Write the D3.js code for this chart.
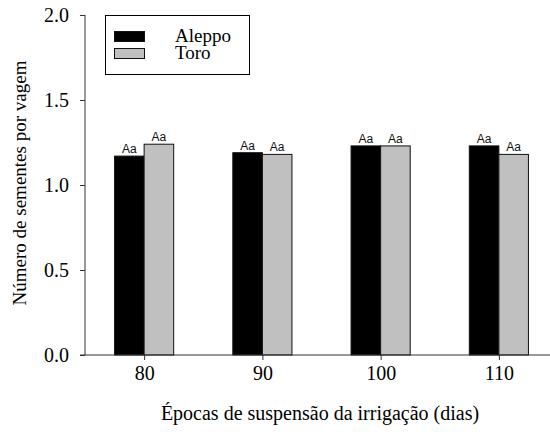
<!DOCTYPE html>
<html>
<head>
  <meta charset="UTF-8">
  <style>
body {
    margin: 0;
    padding: 0;
    background-color: white;
}
svg text {
    font-family: "Liberation Serif", "Times New Roman", serif;
}
.letters {
    font-family: "Liberation Sans", Arial, sans-serif !important;
    font-size: 12px;
}
  </style>
</head>
<body>
<svg></svg>

<script src="https://d3js.org/d3.v7.min.js"></script>
<script>

let width = 550, height = 432;

// data
const epocas = [80, 90, 100, 110];
const aleppo = [1.17, 1.19, 1.23, 1.23];
const toro = [1.24, 1.18, 1.23, 1.18];
const aleppoLetters = ["Aa", "Aa", "Aa", "Aa"];
const toroLetters = ["Aa", "Aa", "Aa", "Aa"];
const yTicks = [0, 0.5, 1.0, 1.5, 2.0];

const series = [
  { name: "Aleppo", values: aleppo, letters: aleppoLetters, color: "black", side: -1 },
  { name: "Toro", values: toro, letters: toroLetters, color: "#c0c0c0", side: 0 }
];

let svg = d3.select("svg")
    .attr("width", width)
    .attr("height", height);

let x = d3.scaleLinear()
    .domain([75, 115])
    .range([85, 558]);

let y = d3.scaleLinear()
    .domain([0, 2])
    .range([355, 15]);

const barW = 2.5; // in x units

// bars
series.forEach(s => {
  let g = svg.append("g");
  g.selectAll("rect")
    .data(epocas)
    .enter()
    .append("rect")
    .attr("x", (d, i) => x(d + s.side * barW))
    .attr("y", (d, i) => y(s.values[i]))
    .attr("width", x(barW) - x(0))
    .attr("height", (d, i) => y(0) - y(s.values[i]))
    .attr("fill", s.color)
    .attr("stroke", "#111")
    .attr("stroke-width", 1);

  g.selectAll("text")
    .data(epocas)
    .enter()
    .append("text")
    .attr("class", "letters")
    .attr("x", (d, i) => x(d + s.side * barW + barW / 2))
    .attr("y", (d, i) => y(s.values[i]) - 3)
    .attr("text-anchor", "middle")
    .attr("fill", "#111")
    .text((d, i) => s.letters[i]);
});

// y axis
let yAxis = svg.append("g")
    .attr("transform", "translate(85,0)")
    .call(d3.axisLeft(y).tickValues(yTicks).tickFormat(d3.format(".1f")).tickSizeOuter(0).tickSize(5).tickPadding(11));

// x axis
let xAxis = svg.append("g")
    .attr("transform", "translate(0,355)")
    .call(d3.axisBottom(x).tickValues(epocas).tickSizeOuter(0).tickSize(5).tickPadding(6));

[yAxis, xAxis].forEach(a => {
  a.select(".domain").attr("stroke", "#333");
  a.selectAll(".tick line").attr("stroke", "#333");
  a.selectAll(".tick text")
    .attr("font-family", "Liberation Serif")
    .attr("font-size", "20px")
    .attr("fill", "black");
});
yAxis.select(".domain").attr("d", "M0,355V15");
xAxis.select(".domain").attr("d", "M80,0H550");

// axis titles
svg.append("text")
    .attr("x", 320)
    .attr("y", 420)
    .attr("text-anchor", "middle")
    .attr("font-size", "20px")
    .text("Épocas de suspensão da irrigação (dias)");

svg.append("text")
    .attr("transform", "translate(26,183) rotate(-90)")
    .attr("text-anchor", "middle")
    .attr("font-size", "19px")
    .text("Número de sementes por vagem");

// legend
let legend = svg.append("g");
legend.append("rect")
    .attr("x", 105.5)
    .attr("y", 15.5)
    .attr("width", 144)
    .attr("height", 59)
    .attr("fill", "white")
    .attr("stroke", "black");

legend.selectAll(".sw")
    .data(series)
    .enter()
    .append("rect")
    .attr("x", 114.5)
    .attr("y", (d, i) => 31.5 + i * 17)
    .attr("width", 30)
    .attr("height", 10)
    .attr("fill", d => d.color)
    .attr("stroke", "#111");

legend.selectAll(".lab")
    .data(series)
    .enter()
    .append("text")
    .attr("x", 175)
    .attr("y", (d, i) => 42 + i * 17)
    .attr("font-size", "19px")
    .text(d => d.name);

</script>
</body>
</html>
